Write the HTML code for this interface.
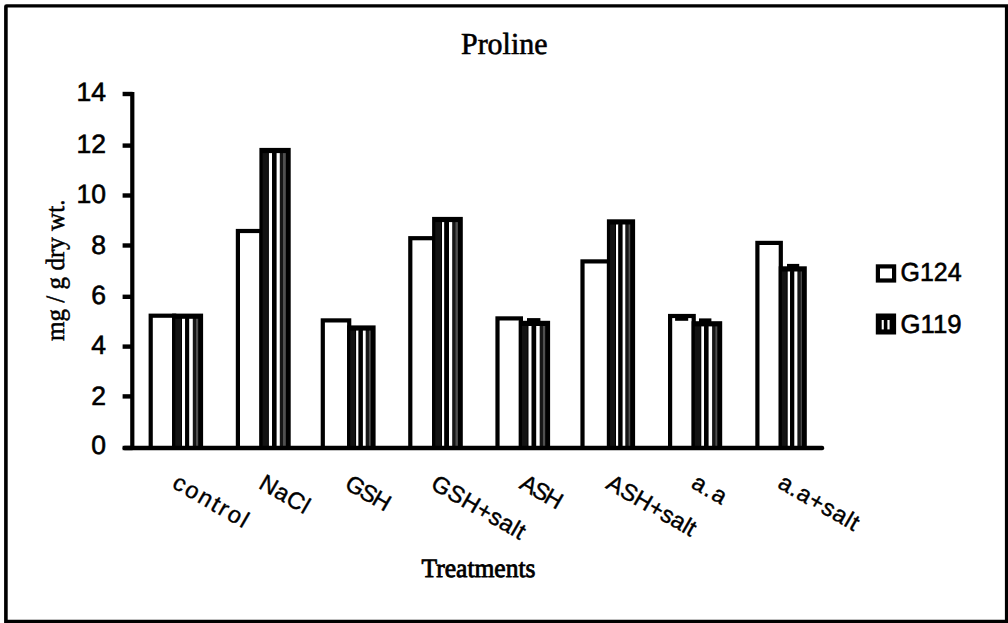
<!DOCTYPE html>
<html><head><meta charset="utf-8"><style>
html,body{margin:0;padding:0;background:#fff;}
svg{display:block;}
text{text-rendering:geometricPrecision;}
.sans{font-family:"Liberation Sans",sans-serif;}
.serif{font-family:"Liberation Serif",serif;}
</style></head><body><div id="w">
<svg width="1008" height="623" viewBox="0 0 1008 623">
<rect x="0" y="0" width="1008" height="623" fill="#fff"/>
<path d="M4.1 6.5 Q4.1 4.3 6.5 4.3 H1008 V623 H4.1 Z M7.7 7.6 V619.8 H1004.9 V7.6 Z" fill="#000" fill-rule="evenodd"/>
<text class="serif" x="461.0" y="53.6" font-size="30.5" textLength="86.5" lengthAdjust="spacingAndGlyphs" stroke="#000" stroke-width="0.6" fill="#000">Proline</text>
<g><rect x="148.60" y="313.60" width="27.70" height="134.40" fill="#000"/>
<rect x="152.80" y="317.80" width="19.30" height="130.20" fill="#fff"/>
<rect x="172.10" y="313.60" width="31.00" height="134.40" fill="#000"/>
<rect x="175.30" y="318.80" width="5.70" height="129.20" fill="#131313"/>
<rect x="182.00" y="318.80" width="3.20" height="129.20" fill="#fff"/>
<rect x="192.80" y="318.80" width="3.20" height="129.20" fill="#161616"/>
<rect x="196.00" y="318.80" width="2.20" height="129.20" fill="#505050"/>
<rect x="185.20" y="318.80" width="4.00" height="129.20" fill="#000"/>
<rect x="189.20" y="318.80" width="3.60" height="129.20" fill="#fff"/>
<rect x="235.80" y="228.90" width="27.80" height="219.10" fill="#000"/>
<rect x="240.00" y="233.10" width="19.40" height="214.90" fill="#fff"/>
<rect x="259.40" y="147.90" width="31.30" height="300.10" fill="#000"/>
<rect x="262.60" y="153.10" width="5.30" height="294.90" fill="#131313"/>
<rect x="268.90" y="153.10" width="3.20" height="294.90" fill="#fff"/>
<rect x="279.80" y="153.10" width="3.20" height="294.90" fill="#161616"/>
<rect x="283.00" y="153.10" width="2.80" height="294.90" fill="#505050"/>
<rect x="272.10" y="153.10" width="4.50" height="294.90" fill="#000"/>
<rect x="276.60" y="153.10" width="3.20" height="294.90" fill="#fff"/>
<rect x="320.70" y="318.30" width="30.60" height="129.70" fill="#000"/>
<rect x="324.90" y="322.50" width="22.20" height="125.50" fill="#fff"/>
<rect x="347.10" y="325.40" width="28.50" height="122.60" fill="#000"/>
<rect x="350.30" y="330.60" width="4.80" height="117.40" fill="#131313"/>
<rect x="356.10" y="330.60" width="2.50" height="117.40" fill="#fff"/>
<rect x="365.70" y="330.60" width="3.20" height="117.40" fill="#161616"/>
<rect x="368.90" y="330.60" width="1.80" height="117.40" fill="#505050"/>
<rect x="358.60" y="330.60" width="4.30" height="117.40" fill="#000"/>
<rect x="362.90" y="330.60" width="2.80" height="117.40" fill="#fff"/>
<rect x="408.20" y="236.10" width="28.10" height="211.90" fill="#000"/>
<rect x="412.40" y="240.30" width="19.70" height="207.70" fill="#fff"/>
<rect x="432.10" y="216.90" width="30.70" height="231.10" fill="#000"/>
<rect x="435.30" y="222.10" width="5.70" height="225.90" fill="#131313"/>
<rect x="442.00" y="222.10" width="2.40" height="225.90" fill="#fff"/>
<rect x="452.20" y="222.10" width="3.20" height="225.90" fill="#161616"/>
<rect x="455.40" y="222.10" width="2.50" height="225.90" fill="#505050"/>
<rect x="444.40" y="222.10" width="4.60" height="225.90" fill="#000"/>
<rect x="449.00" y="222.10" width="3.20" height="225.90" fill="#fff"/>
<rect x="495.40" y="316.30" width="27.60" height="131.70" fill="#000"/>
<rect x="499.60" y="320.50" width="19.20" height="127.50" fill="#fff"/>
<rect x="518.80" y="320.80" width="31.30" height="127.20" fill="#000"/>
<rect x="522.00" y="326.00" width="5.50" height="122.00" fill="#131313"/>
<rect x="528.50" y="326.00" width="3.20" height="122.00" fill="#fff"/>
<rect x="539.70" y="326.00" width="3.20" height="122.00" fill="#161616"/>
<rect x="542.90" y="326.00" width="2.30" height="122.00" fill="#505050"/>
<rect x="531.70" y="326.00" width="4.50" height="122.00" fill="#000"/>
<rect x="536.20" y="326.00" width="3.50" height="122.00" fill="#fff"/>
<rect x="580.40" y="259.30" width="30.70" height="188.70" fill="#000"/>
<rect x="584.60" y="263.50" width="22.30" height="184.50" fill="#fff"/>
<rect x="606.90" y="219.30" width="28.20" height="228.70" fill="#000"/>
<rect x="610.10" y="224.50" width="4.90" height="223.50" fill="#131313"/>
<rect x="616.00" y="224.50" width="2.40" height="223.50" fill="#fff"/>
<rect x="625.30" y="224.50" width="3.20" height="223.50" fill="#161616"/>
<rect x="628.50" y="224.50" width="1.70" height="223.50" fill="#505050"/>
<rect x="618.40" y="224.50" width="4.20" height="223.50" fill="#000"/>
<rect x="622.60" y="224.50" width="2.70" height="223.50" fill="#fff"/>
<rect x="668.00" y="313.90" width="27.80" height="134.10" fill="#000"/>
<rect x="672.20" y="318.10" width="19.40" height="129.90" fill="#fff"/>
<rect x="691.60" y="321.20" width="30.60" height="126.80" fill="#000"/>
<rect x="694.80" y="326.40" width="5.50" height="121.60" fill="#131313"/>
<rect x="701.30" y="326.40" width="2.80" height="121.60" fill="#fff"/>
<rect x="712.10" y="326.40" width="3.20" height="121.60" fill="#161616"/>
<rect x="715.30" y="326.40" width="2.00" height="121.60" fill="#505050"/>
<rect x="704.10" y="326.40" width="4.50" height="121.60" fill="#000"/>
<rect x="708.60" y="326.40" width="3.50" height="121.60" fill="#fff"/>
<rect x="755.30" y="240.80" width="27.60" height="207.20" fill="#000"/>
<rect x="759.50" y="245.00" width="19.20" height="203.00" fill="#fff"/>
<rect x="778.70" y="266.30" width="28.10" height="181.70" fill="#000"/>
<rect x="781.90" y="271.50" width="4.80" height="176.50" fill="#131313"/>
<rect x="787.70" y="271.50" width="2.40" height="176.50" fill="#fff"/>
<rect x="797.40" y="271.50" width="3.20" height="176.50" fill="#161616"/>
<rect x="800.60" y="271.50" width="1.30" height="176.50" fill="#505050"/>
<rect x="790.10" y="271.50" width="4.20" height="176.50" fill="#000"/>
<rect x="794.30" y="271.50" width="3.10" height="176.50" fill="#fff"/>
<rect x="527.00" y="318.10" width="13.40" height="4.90" fill="#000"/>
<rect x="699.00" y="318.40" width="12.40" height="4.60" fill="#000"/>
<rect x="675.10" y="316.00" width="13.10" height="4.80" fill="#000"/>
<rect x="787.00" y="263.90" width="12.20" height="4.10" fill="#000"/></g>
<rect x="130.2" y="92" width="4.2" height="358" fill="#000"/>
<rect x="122.6" y="445.8" width="701.6" height="4.4" rx="2" fill="#000"/>
<rect x="122.6" y="91.80" width="10" height="4.4" fill="#000"/><rect x="122.6" y="143.40" width="10" height="4.4" fill="#000"/><rect x="122.6" y="193.30" width="10" height="4.4" fill="#000"/><rect x="122.6" y="243.30" width="10" height="4.4" fill="#000"/><rect x="122.6" y="294.60" width="10" height="4.4" fill="#000"/><rect x="122.6" y="344.40" width="10" height="4.4" fill="#000"/><rect x="122.6" y="394.20" width="10" height="4.4" fill="#000"/><rect x="122.6" y="445.80" width="10" height="4.4" fill="#000"/>
<g class="sans" font-size="26.5" fill="#000" stroke="#000" stroke-width="0.6"><text x="106.0" y="100.50" text-anchor="end">14</text><text x="106.0" y="152.70" text-anchor="end">12</text><text x="106.0" y="202.50" text-anchor="end">10</text><text x="106.0" y="253.50" text-anchor="end">8</text><text x="106.0" y="303.80" text-anchor="end">6</text><text x="106.0" y="353.60" text-anchor="end">4</text><text x="106.0" y="405.00" text-anchor="end">2</text><text x="106.0" y="454.30" text-anchor="end">0</text></g>
<g class="sans" font-size="23.5" fill="#000" stroke="#000" stroke-width="0.4"><text transform="translate(171.00,487.00) rotate(30)" textLength="83.31" lengthAdjust="spacing">control</text><text transform="translate(257.50,487.50) rotate(30)" textLength="54.16" lengthAdjust="spacing">NaCl</text><text transform="translate(343.50,488.00) rotate(30)" textLength="48.11" lengthAdjust="spacing">GSH</text><text transform="translate(429.50,488.00) rotate(30)" textLength="104.37" lengthAdjust="spacing">GSH+salt</text><text transform="translate(518.30,487.50) rotate(30)" textLength="44.91" lengthAdjust="spacing">ASH</text><text transform="translate(604.80,487.50) rotate(30)" textLength="99.20" lengthAdjust="spacing">ASH+salt</text><text transform="translate(690.00,487.00) rotate(30)" textLength="36.13" lengthAdjust="spacing">a.a</text><text transform="translate(776.50,487.00) rotate(30)" textLength="89.21" lengthAdjust="spacing">a.a+salt</text></g>
<text class="serif" x="421.5" y="577" font-size="26.5" textLength="114" lengthAdjust="spacingAndGlyphs" stroke="#000" stroke-width="0.85" font-weight="normal">Treatments</text>
<text class="serif" transform="translate(64.0,341) rotate(-90)" font-size="26.5" textLength="141.5" lengthAdjust="spacingAndGlyphs" stroke="#000" stroke-width="0.5" font-weight="normal">mg / g dry wt.</text>
<rect x="877.9" y="266.4" width="16.2" height="14.1" fill="#fff" stroke="#000" stroke-width="4.2"/>
<rect x="875.8" y="313.5" width="20.3" height="21" fill="#000"/>
<rect x="881.7" y="320" width="2.1" height="9.4" fill="#fff"/>
<rect x="887.4" y="320" width="2.2" height="9.4" fill="#fff"/>
<g class="sans" font-size="26" fill="#000" stroke="#000" stroke-width="0.6">
<text x="900.5" y="281.0" textLength="61" lengthAdjust="spacingAndGlyphs">G124</text>
<text x="900.5" y="333.0" textLength="61" lengthAdjust="spacingAndGlyphs">G119</text>
</g>
</svg></div>
</body></html>
